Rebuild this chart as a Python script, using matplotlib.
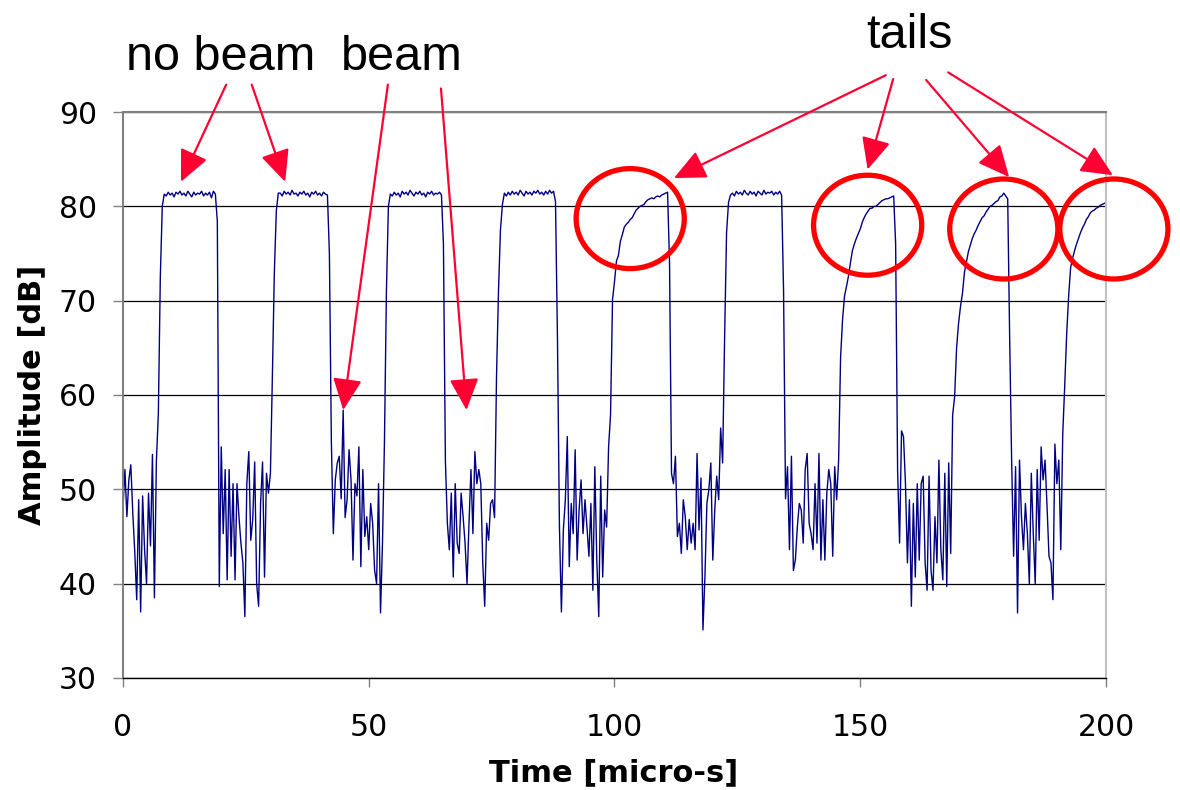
import matplotlib.pyplot as plt
import matplotlib.patches as mpatches
import numpy as np

# sampled amplitude trace, one value every 0.4 micro-s (each row covers 4 micro-s)
sample_step_us = 0.4
amplitude_db = [
    48, 52.1, 47.1, 51, 52.6, 47.5, 43.4, 38.3, 48.9, 37,
    49.3, 43.6, 40, 49.6, 44, 53.7, 38.5, 53, 58, 72.5,
    80, 81.3, 81.1, 81.5, 81.2, 81.4, 81.0, 81.5, 81.3, 81.6,
    81.2, 81.4, 81.1, 81.6, 81.3, 81.0, 81.5, 81.2, 81.4, 81.3,
    81.6, 81.1, 81.4, 81.2, 81.5, 80.9, 81.6, 81.3, 78.4, 39.7,
    54.5, 45.3, 52.1, 40.4, 52.1, 42.9, 50.6, 40.4, 50.6, 47.1,
    44.3, 42.2, 36.5, 50.6, 54, 44.6, 46.8, 52.9, 40, 37.6,
    48.5, 52.9, 40.7, 51.7, 49.6, 51.7, 62, 73, 79.5, 81.4,
    81.4, 81.1, 81.6, 81.3, 81.5, 81.2, 81.7, 81.3, 81.4, 81.1,
    81.5, 81.3, 81.6, 81.2, 81.4, 81.0, 81.5, 81.3, 81.6, 81.2,
    81.4, 81.1, 81.5, 81.3, 81.2, 75, 55, 45.3, 51, 52.8,
    53.5, 49, 58.4, 47, 48.9, 54.2, 51, 42.5, 50.6, 49.3,
    54.5, 41.8, 52.1, 45, 47.1, 43.6, 48.5, 46.4, 41.4, 40,
    50.6, 36.9, 44.3, 55, 71, 80, 81.3, 81.1, 81.5, 81.2,
    81.4, 81.0, 81.6, 81.3, 81.5, 81.2, 81.7, 81.4, 81.1, 81.5,
    81.3, 81.6, 81.2, 81.4, 81.0, 81.5, 81.3, 81.6, 81.2, 81.4,
    81.3, 81.5, 81.2, 76, 53, 46.4, 43.6, 49.6, 40.7, 50.6,
    44.3, 43.2, 49.6, 47.1, 44.3, 40, 46.4, 52.1, 45.3, 54,
    50.6, 52.1, 50.6, 42.2, 37.6, 46.4, 44.6, 48.5, 48.9, 47,
    62, 71, 77.5, 80.2, 81.4, 81.1, 81.5, 81.2, 81.6, 81.3,
    81.5, 81.2, 81.7, 81.4, 81.1, 81.6, 81.3, 81.5, 81.2, 81.6,
    81.4, 81.7, 81.3, 81.5, 81.2, 81.6, 81.3, 81.7, 81.4, 81.6,
    80.5, 66, 46, 37, 45.7, 48.9, 55.6, 41.8, 48.5, 45.3,
    54.2, 42.5, 47.8, 51, 45.3, 48.9, 46, 42.9, 48.5, 39.3,
    52.4, 42.5, 36.5, 51.4, 40.7, 47.8, 46, 54.5, 57.9, 70.1,
    72, 74.2, 74.8, 76.3, 77, 77.8, 78.1, 78.3, 78.6, 78.8,
    79.2, 79.6, 79.8, 80.0, 80.1, 80.2, 80.5, 80.7, 80.8, 80.9,
    80.8, 81.0, 81.1, 81.0, 81.2, 81.3, 81.4, 81.5, 74, 51.7,
    50.6, 53.5, 45, 46.4, 43.2, 48.9, 47.1, 43.6, 46.8, 44.3,
    46.4, 43.6, 53.8, 45.7, 51.2, 35.1, 40.7, 48.5, 50, 52.8,
    42.5, 47.8, 51.4, 48.9, 56.5, 52.8, 66, 77.2, 80.4, 81.2,
    81.4, 81.1, 81.6, 81.3, 81.5, 81.2, 81.7, 81.4, 81.2, 81.6,
    81.3, 81.5, 81.1, 81.6, 81.4, 81.2, 81.7, 81.3, 81.5, 81.4,
    81.6, 81.2, 81.5, 81.3, 81.6, 81.2, 71, 49, 52.4, 43.6,
    53.5, 41.4, 42.5, 46, 48.5, 47.8, 44.3, 52.1, 53.8, 46.4,
    45.3, 43.6, 50.6, 44.3, 53.8, 42.5, 48.9, 42.5, 49.6, 52.1,
    50.6, 42.9, 52.4, 48.9, 53.1, 64, 68, 70.5, 71.5, 72.6,
    74, 75.3, 76, 76.6, 77.1, 77.6, 78.3, 78.8, 79.2, 79.5,
    79.8, 79.8, 80.0, 80.0, 80.2, 80.4, 80.6, 80.7, 80.8, 80.8,
    80.9, 81.0, 81.1, 76, 52, 44.3, 56.2, 55.6, 50.6, 42.2,
    48.9, 37.6, 48.5, 40.7, 50.6, 42.5, 50.6, 51.4, 42.2, 39.3,
    51.4, 41.4, 39.3, 47.1, 42.2, 53.1, 43.6, 40.4, 51.7, 39.7,
    52.8, 43.2, 57.9, 59.8, 65, 67.6, 69.4, 70.8, 73, 74.1,
    75.2, 75.9, 76.6, 77.1, 77.5, 78, 78.4, 78.8, 79, 79.4,
    79.7, 80, 80.1, 80.3, 80.5, 80.6, 81.0, 81.1, 81.4, 81.1,
    80.8, 66, 53, 42.9, 52.4, 36.9, 53.1, 47.1, 43.6, 48.5,
    45.3, 40, 51.7, 45.3, 40, 52.1, 44.6, 54.5, 51, 53.1,
    48.2, 42.9, 42.2, 38.3, 54.8, 50.6, 53.1, 43.6, 55.9, 61,
    66.5, 70.5, 73.5, 74.5, 75.3, 76, 76.6, 77.2, 77.7, 78.1,
    78.6, 78.9, 79.3, 79.5, 79.6, 79.8, 79.9, 80.1, 80.2, 80.3,
    80.4,
]
time_us = np.arange(len(amplitude_db)) * sample_step_us

x_ticks = [0, 50, 100, 150, 200]
y_ticks = [30, 40, 50, 60, 70, 80, 90]

# annotation targets (time, dB)
no_beam_tips = [(11.8, 82.6), (33.0, 82.6)]
beam_tips = [(44.8, 58.4), (69.9, 58.4)]
tail_tips = [(112.1, 83.0), (151.5, 83.9), (180.3, 83.1), (201.4, 83.3)]
tail_centers = [(103.2, 78.7), (151.5, 78.0), (179.2, 77.6), (201.6, 77.6)]

ARROW_RED = "#ff0033"

fig = plt.figure(figsize=(11.8, 7.9), dpi=100)
ax = fig.add_axes([0.1042, 0.1418, 0.8331, 0.7164])

ax.plot(time_us, amplitude_db, color="#000080", lw=1.0)

ax.set_xlim(0, 200)
ax.set_ylim(30, 90)
ax.set_xticks(x_ticks)
ax.set_yticks(y_ticks)
ax.tick_params(axis="y", direction="out", length=7.2, width=1, color="#808080",
               labelsize=21.5, pad=11.5)
ax.tick_params(axis="x", direction="out", length=6.5, width=1, color="#808080",
               labelsize=21.5, pad=19)
ax.yaxis.grid(True, color="black", lw=0.9)
ax.set_axisbelow(True)

ax.spines["left"].set_color("#808080")
ax.spines["left"].set_linewidth(1.5)
ax.spines["top"].set_color("#808080")
ax.spines["top"].set_linewidth(1.5)
ax.spines["right"].set_color("#c0c0c0")
ax.spines["right"].set_linewidth(1.5)
ax.spines["bottom"].set_color("black")
ax.spines["bottom"].set_linewidth(1)

fig.text(0.5203, 1 - 773 / 790, "Time [micro-s]", ha="center", va="center",
         fontsize=22, fontweight="bold")
fig.text(33 / 1180, 0.5, "Amplitude [dB]", ha="center", va="center",
         rotation=90, fontsize=22, fontweight="bold")

# labels above the plot
lab_font = dict(family="Liberation Sans", fontsize=35, ha="left", va="baseline",
                annotation_clip=False)
ax.annotate("no beam", xy=(0.7, 94.5), **lab_font)
ax.annotate("beam", xy=(44.3, 94.5), **lab_font)
ax.annotate("tails", xy=(151.3, 96.8), **lab_font)

arrow_kw = dict(arrowstyle="-|>,head_length=1.3,head_width=0.6", color=ARROW_RED,
                lw=1.6, mutation_scale=15, shrinkA=0, shrinkB=0)

starts = [(21.0, 92.9), (26.2, 92.9)]
for tip, start in zip(no_beam_tips, starts):
    ax.annotate("", xy=tip, xytext=start, arrowprops=arrow_kw, annotation_clip=False)

starts = [(53.9, 92.9), (64.7, 92.5)]
for tip, start in zip(beam_tips, starts):
    ax.annotate("", xy=tip, xytext=start, arrowprops=arrow_kw, annotation_clip=False)

starts = [(155.2, 93.9), (156.7, 93.5), (163.4, 93.4), (167.9, 94.2)]
for tip, start in zip(tail_tips, starts):
    ax.annotate("", xy=tip, xytext=start, arrowprops=arrow_kw, annotation_clip=False)

for cx, cy in tail_centers:
    ax.add_patch(mpatches.Ellipse((cx, cy), 22, 10.6, fill=False, edgecolor="#ff0000",
                                  lw=3.8, clip_on=False, zorder=5))

fig.savefig("out.png", dpi=100)
